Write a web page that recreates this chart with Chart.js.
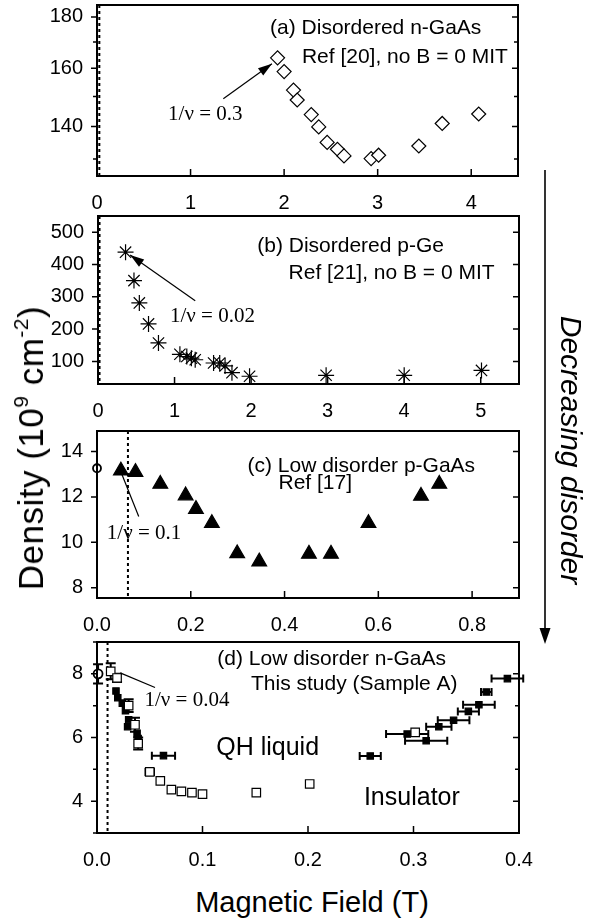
<!DOCTYPE html>
<html>
<head>
<meta charset="utf-8">
<script src="https://cdn.jsdelivr.net/npm/chart.js@4.4.0/dist/chart.umd.min.js"></script>
<style>
  body { margin: 0; width: 590px; height: 921px; position: relative; background: #fff; overflow: hidden;
         font-family: "Liberation Sans", Arial, sans-serif; color: #000; }
  .panel { position: absolute; left: 0; width: 590px; }
  .label { position: absolute; white-space: nowrap; transform: translate(-50%, -50%); }
  #ytitle { left: 31px; top: 448px; font-size: 35px; letter-spacing: 0.5px; transform: translate(-50%, -50%) rotate(-90deg); }
  #xtitle { left: 312px; top: 902px; font-size: 29px; }
  #side { left: 571px; top: 450px; font-size: 30px; font-style: italic; transform: translate(-50%, -50%) rotate(90deg); }
  sup { font-size: 60%; vertical-align: 0.7em; line-height: 0; }
  svg { position: absolute; left: 0; top: 0; }
</style>
</head>
<body>
<div class="panel" id="boxA" style="top:-15px;height:231px"><canvas id="chartA"></canvas></div>
<div class="panel" id="boxB" style="top:196px;height:228px"><canvas id="chartB"></canvas></div>
<div class="panel" id="boxC" style="top:411px;height:227px"><canvas id="chartC"></canvas></div>
<div class="panel" id="boxD" style="top:622px;height:251px"><canvas id="chartD"></canvas></div>
<div class="label" id="ytitle">Density (10<sup>9</sup> cm<sup>-2</sup>)</div>
<div class="label" id="xtitle">Magnetic Field (T)</div>
<div class="label" id="side">Decreasing disorder</div>
<svg width="590" height="921">
  <line x1="545" y1="170" x2="545" y2="630" stroke="#000" stroke-width="1.6"/>
  <polygon points="539.5,628 550.5,628 545,644" fill="#000"/>
</svg>
<script>
// (a) disordered n-GaAs, Ref [20]
const fieldA = [1.93, 2.00, 2.10, 2.14, 2.29, 2.37, 2.46, 2.57, 2.64, 2.93, 3.01, 3.44, 3.69, 4.08]
const densityA = [163.9, 158.8, 152.2, 148.8, 143.9, 139.9, 135.0, 132.9, 130.9, 130.1, 131.1, 133.9, 141.0, 144.1]
// (b) disordered p-Ge, Ref [21]
const fieldB = [0.36, 0.47, 0.54, 0.66, 0.79, 1.07, 1.16, 1.22, 1.27, 1.51, 1.59, 1.66, 1.75, 1.98, 2.98, 4.00, 5.01]
const densityB = [438, 350, 281, 216, 157, 122, 115, 110, 105, 95, 95, 86, 65, 54, 57, 57, 72]
// (c) low disorder p-GaAs, Ref [17]
const fieldC = [0.051, 0.082, 0.135, 0.189, 0.211, 0.245, 0.299, 0.346, 0.452, 0.499, 0.579, 0.691, 0.730]
const densityC = [13.15, 13.09, 12.57, 12.06, 11.46, 10.84, 9.51, 9.15, 9.49, 9.49, 10.84, 12.04, 12.57]
const fieldCZero = [0.0]
const densityCZero = [13.26]
// (d) low disorder n-GaAs, this study
const fieldDOpen = [0.013, 0.019, 0.030, 0.036, 0.039, 0.050, 0.060, 0.0705, 0.080, 0.090, 0.100, 0.151, 0.2016, 0.3016]
const densityDOpen = [8.08, 7.87, 7.00, 6.40, 5.81, 4.92, 4.64, 4.36, 4.31, 4.27, 4.22, 4.27, 4.54, 6.16]
const errYDOpen = [0.25, 0.13, 0.20, 0.22, 0.19, 0, 0, 0, 0, 0, 0, 0, 0, 0]
const errXDOpen = [0, 0, 0, 0, 0, 0.004, 0, 0, 0, 0, 0, 0, 0, 0]
const fieldDFilled = [0.018, 0.0197, 0.024, 0.027, 0.030, 0.029, 0.038, 0.039, 0.063, 0.259, 0.294, 0.312, 0.324, 0.338, 0.352, 0.362, 0.369, 0.389]
const densityDFilled = [7.46, 7.25, 7.08, 6.84, 6.56, 6.34, 6.13, 5.97, 5.43, 5.42, 6.11, 5.90, 6.34, 6.54, 6.82, 7.03, 7.43, 7.85]
const errXDFilled = [0, 0, 0, 0, 0, 0, 0, 0, 0.011, 0.010, 0.020, 0.020, 0.012, 0.015, 0.010, 0.015, 0.005, 0.015]
const fieldDZero = [0.001]
const densityDZero = [8.0]
const errYDZero = [0.3]

// dashed lines and tick positions
const criticalField = [0.025, 0.02, 0.066, 0.01]
const ticksAx = [0, 1, 2, 3, 4]
const ticksAy = [130, 140, 150, 160, 170, 180]
const labelsAy = [140, 160, 180]
const ticksBx = [0, 1, 2, 3, 4, 5]
const ticksBy = [100, 200, 300, 400, 500]
const ticksCx = [0, 0.2, 0.4, 0.6, 0.8]
const ticksCy = [8, 10, 12, 14]
const ticksDx = [0, 0.1, 0.2, 0.3, 0.4]
const ticksDy = [3, 4, 5, 6, 7, 8, 9]
const labelsDy = [4, 6, 8]

Chart.defaults.font.family = '"Liberation Sans", Arial, sans-serif'
Chart.defaults.font.size = 20
Chart.defaults.color = '#000'
Chart.defaults.animation = false

const SANS = '21px "Liberation Sans", Arial, sans-serif'
const BIG = '25px "Liberation Sans", Arial, sans-serif'
const SERIF = '21px "Liberation Serif", "Times New Roman", serif'

const pts = (xs, ys) => xs.map((x, i) => ({ x: x, y: ys[i] }))

// frame around the plot with inward ticks on bottom/right, outward on left
const frameTicks = {
  id: 'frameTicks',
  beforeDatasetsDraw(chart, args, opts) {
    const { ctx, chartArea: a, scales: { x } } = chart
    if (opts.dashX === undefined) return
    const px = x.getPixelForValue(opts.dashX)
    ctx.save()
    ctx.strokeStyle = '#000'
    ctx.lineWidth = 2
    ctx.setLineDash([3, 3])
    ctx.beginPath()
    ctx.moveTo(px, a.top)
    ctx.lineTo(px, a.bottom)
    ctx.stroke()
    ctx.restore()
  },
  afterDraw(chart) {
    const { ctx, chartArea: a, scales: { x, y } } = chart
    ctx.save()
    ctx.strokeStyle = '#000'
    ctx.lineWidth = 2
    ctx.strokeRect(a.left, a.top, a.right - a.left, a.bottom - a.top)
    ctx.lineWidth = 1.5
    ctx.beginPath()
    x.ticks.forEach(t => {
      const px = x.getPixelForValue(t.value)
      ctx.moveTo(px, a.bottom)
      ctx.lineTo(px, a.bottom - 7)
    })
    y.ticks.forEach(t => {
      const py = y.getPixelForValue(t.value)
      const len = t.label === '' ? 4 : 6
      ctx.moveTo(a.left - len, py)
      ctx.lineTo(a.left, py)
      ctx.moveTo(a.right, py)
      ctx.lineTo(a.right - len, py)
    })
    ctx.stroke()
    ctx.restore()
  }
}

// error bars read from errX / errY arrays on the dataset
const errorBars = {
  id: 'errorBars',
  beforeDatasetsDraw(chart) {
    const { ctx, scales: { x, y } } = chart
    ctx.save()
    ctx.strokeStyle = '#000'
    ctx.lineWidth = 2
    chart.data.datasets.forEach(ds => {
      ds.data.forEach((p, i) => {
        const px = x.getPixelForValue(p.x)
        const py = y.getPixelForValue(p.y)
        ctx.beginPath()
        if (ds.errY && ds.errY[i]) {
          const y1 = y.getPixelForValue(p.y + ds.errY[i])
          const y2 = y.getPixelForValue(p.y - ds.errY[i])
          ctx.moveTo(px, y1); ctx.lineTo(px, y2)
          ctx.moveTo(px - 5, y1); ctx.lineTo(px + 5, y1)
          ctx.moveTo(px - 5, y2); ctx.lineTo(px + 5, y2)
        }
        if (ds.errX && ds.errX[i]) {
          const x1 = x.getPixelForValue(p.x - ds.errX[i])
          const x2 = x.getPixelForValue(p.x + ds.errX[i])
          ctx.moveTo(x1, py); ctx.lineTo(x2, py)
          ctx.moveTo(x1, py - 4); ctx.lineTo(x1, py + 4)
          ctx.moveTo(x2, py - 4); ctx.lineTo(x2, py + 4)
        }
        ctx.stroke()
      })
    })
    ctx.restore()
  }
}

// text notes and arrows, placed in data units
const notes = {
  id: 'notes',
  afterDatasetsDraw(chart, args, opts) {
    const { ctx, scales: { x, y } } = chart
    ctx.save()
    ctx.fillStyle = '#000'
    ctx.strokeStyle = '#000'
    ctx.lineWidth = 1.2
    ctx.textAlign = 'left'
    ctx.textBaseline = 'middle'
    ;(opts.texts || []).forEach(n => {
      ctx.font = n.font || SANS
      ctx.fillText(n.text, x.getPixelForValue(n.x), y.getPixelForValue(n.y))
    })
    ;(opts.arrows || []).forEach(ar => {
      const x1 = x.getPixelForValue(ar.from[0]), y1 = y.getPixelForValue(ar.from[1])
      const x2 = x.getPixelForValue(ar.to[0]), y2 = y.getPixelForValue(ar.to[1])
      ctx.beginPath(); ctx.moveTo(x1, y1); ctx.lineTo(x2, y2); ctx.stroke()
      if (!ar.head) return
      const ang = Math.atan2(y2 - y1, x2 - x1)
      const c = Math.cos(ang), s = Math.sin(ang)
      ctx.beginPath()
      ctx.moveTo(x2, y2)
      ctx.lineTo(x2 - 14 * c + 4.5 * s, y2 - 14 * s - 4.5 * c)
      ctx.lineTo(x2 - 14 * c - 4.5 * s, y2 - 14 * s + 4.5 * c)
      ctx.closePath()
      ctx.fill()
    })
    ctx.restore()
  }
}

const xAxis = (min, max, ticks, digits) => ({
  type: 'linear', position: 'bottom', min: min, max: max,
  grid: { display: false }, border: { display: false },
  afterBuildTicks: s => { s.ticks = ticks.map(v => ({ value: v })) },
  afterFit: s => { s.height = 40 },
  ticks: { padding: 7, maxRotation: 0, autoSkip: false, callback: v => v.toFixed(digits) }
})

const yAxis = (type, min, max, ticks, labels, width) => ({
  type: type, position: 'left', min: min, max: max,
  grid: { display: false }, border: { display: false },
  afterBuildTicks: s => { s.ticks = ticks.map(v => ({ value: v })) },
  afterFit: s => { s.width = width },
  ticks: { padding: 6, autoSkip: false, callback: v => (labels.includes(v) ? String(v) : '') }
})

const marker = (data, style, radius, fill, extra) => Object.assign({
  data: data, pointStyle: style, pointRadius: radius, borderColor: '#000',
  backgroundColor: fill, borderWidth: 1.2, clip: false
}, extra || {})

function makePanel(id, right, datasets, scales, noteOpts, dashX) {
  return new Chart(document.getElementById(id), {
    type: 'scatter',
    data: { datasets: datasets },
    options: {
      responsive: true, maintainAspectRatio: false,
      layout: { padding: { top: 20, right: 590 - right, bottom: 0, left: 0 } },
      scales: scales,
      plugins: { legend: { display: false }, tooltip: { enabled: false },
                 notes: noteOpts, frameTicks: { dashX: dashX } }
    },
    plugins: [frameTicks, errorBars, notes]
  })
}

makePanel('chartA', 518,
  [marker(pts(fieldA, densityA), 'rectRot', 7, '#fff')],
  { x: xAxis(0, 4.5, ticksAx, 0), y: yAxis('logarithmic', 125, 185, ticksAy, labelsAy, 97) },
  { texts: [
      { text: '(a) Disordered n-GaAs', x: 1.85, y: 175.4 },
      { text: 'Ref [20], no B = 0 MIT', x: 2.19, y: 164.0 },
      { text: '1/ν = 0.3', x: 0.76, y: 144, font: SERIF }],
    arrows: [{ from: [1.35, 149.2], to: [1.87, 161.7], head: true }] },
  criticalField[0])

makePanel('chartB', 519,
  [marker(pts(fieldB, densityB), 'star', 8, '#000')],
  { x: xAxis(0, 5.5, ticksBx, 0), y: yAxis('linear', 30, 550, ticksBy, ticksBy, 98) },
  { texts: [
      { text: '(b) Disordered p-Ge', x: 2.08, y: 457 },
      { text: 'Ref [21], no B = 0 MIT', x: 2.49, y: 374 },
      { text: '1/ν = 0.02', x: 0.94, y: 238, font: SERIF }],
    arrows: [{ from: [1.27, 288], to: [0.42, 429], head: true }] },
  criticalField[1])

makePanel('chartC', 519,
  [marker(pts(fieldC, densityC), 'triangle', 8.5, '#000'),
   marker(pts(fieldCZero, densityCZero), 'circle', 4, '#fff', { borderWidth: 1.8 })],
  { x: xAxis(0, 0.9, ticksCx, 1), y: yAxis('linear', 7.55, 14.9, ticksCy, ticksCy, 97) },
  { texts: [
      { text: '(c) Low disorder p-GaAs', x: 0.321, y: 13.34 },
      { text: 'Ref [17]', x: 0.387, y: 12.59 },
      { text: '1/ν = 0.1', x: 0.021, y: 10.39, font: SERIF }],
    arrows: [{ from: [0.089, 11.14], to: [0.053, 13.0], head: false }] },
  criticalField[2])

makePanel('chartD', 519,
  [marker(pts(fieldDOpen, densityDOpen), 'rect', 6, '#fff', { errY: errYDOpen, errX: errXDOpen }),
   marker(pts(fieldDFilled, densityDFilled), 'rect', 4.5, '#000', { errX: errXDFilled }),
   marker(pts(fieldDZero, densityDZero), 'circle', 4.5, '#fff', { borderWidth: 1.8, errY: errYDZero })],
  { x: xAxis(0, 0.4, ticksDx, 1), y: yAxis('linear', 3, 9, ticksDy, labelsDy, 97) },
  { texts: [
      { text: '(d) Low disorder n-GaAs', x: 0.114, y: 8.45 },
      { text: 'This study (Sample A)', x: 0.146, y: 7.66 },
      { text: 'QH liquid', x: 0.113, y: 5.67, font: BIG },
      { text: 'Insulator', x: 0.253, y: 4.11, font: BIG },
      { text: '1/ν = 0.04', x: 0.045, y: 7.15, font: SERIF }],
    arrows: [{ from: [0.055, 7.57], to: [0.022, 8.03], head: false }] },
  criticalField[3])
</script>
</body>
</html>
